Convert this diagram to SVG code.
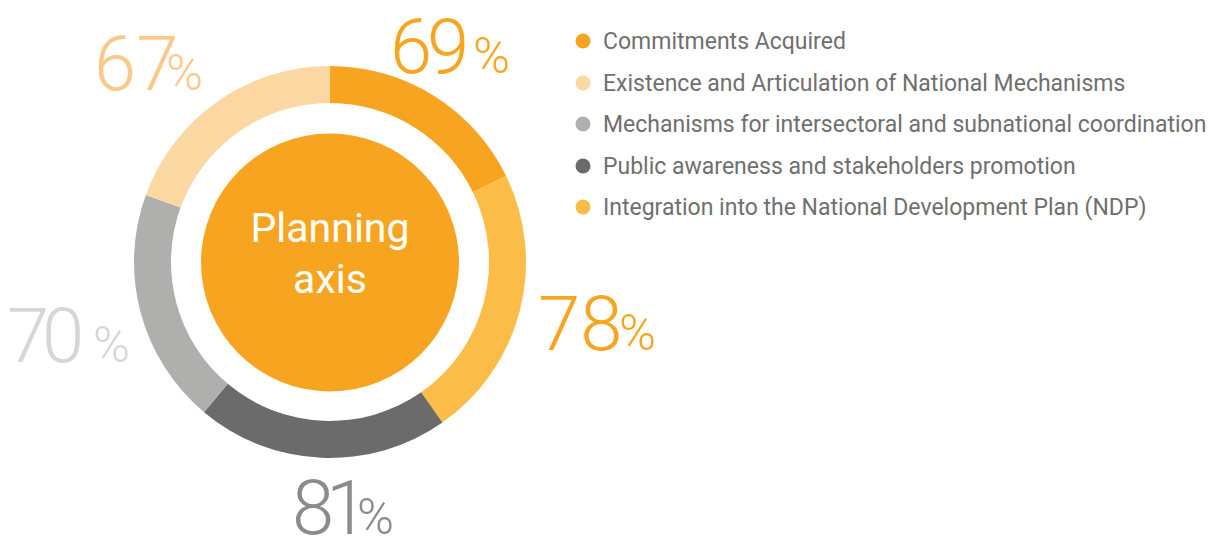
<svg xmlns="http://www.w3.org/2000/svg" width="1212" height="536" viewBox="0 0 1212 536">
<style>
.pct{font-family:Roboto,"Liberation Sans",sans-serif;font-weight:300;font-size:76px}
.ps{font-size:50px}
.leg{font-family:Roboto,"Liberation Sans",sans-serif;font-size:23px;fill:#6f6f6f}
.ctr{font-family:Roboto,"Liberation Sans",sans-serif;font-size:41px;fill:#ffffff;text-anchor:middle}
</style>
<rect width="1212" height="536" fill="#ffffff"/>
<g id="ring">
<path id="seg-commitments" d="M330,66 A196,196 0 0 1 506.16,176.07 L472.91,192.29 A159,159 0 0 0 330,103 Z" fill="#F7A521"/>
<path id="seg-ndp" d="M506.16,176.07 A196,196 0 0 1 442.43,422.56 L421.2,392.25 A159,159 0 0 0 472.91,192.29 Z" fill="#FBBD48"/>
<path id="seg-public" d="M442.43,422.56 A196,196 0 0 1 204.01,412.14 L227.79,383.79 A159,159 0 0 0 421.2,392.25 Z" fill="#6B6B6B"/>
<path id="seg-intersectoral" d="M204.01,412.14 A196,196 0 0 1 145.82,194.97 L180.59,207.62 A159,159 0 0 0 227.79,383.79 Z" fill="#AFAFAE"/>
<path id="seg-existence" d="M145.82,194.97 A196,196 0 0 1 330,66 L330,103 A159,159 0 0 0 180.59,207.62 Z" fill="#FBD7A2"/>
</g>
<g id="center">
<circle cx="330" cy="262.5" r="129" fill="#F7A521"/>
<text class="ctr" x="330" y="242">Planning</text>
<text class="ctr" x="330" y="293">axis</text>
</g>
<g id="labels">
<text class="pct" x="94" y="90" fill="#FAC98A">67<tspan class="ps" x="166">%</tspan></text>
<text class="pct" x="390" y="73" fill="#F7A521">6<tspan x="427">9</tspan><tspan class="ps" x="473">%</tspan></text>
<text class="pct" x="538" y="350" fill="#F7A521">78<tspan class="ps" x="619">%</tspan></text>
<text class="pct" x="7" y="362" fill="#D6D6D6">7<tspan x="42">0</tspan><tspan class="ps" x="93">%</tspan></text>
<text class="pct" x="292" y="534" fill="#8B8B8B">8<tspan x="326">1</tspan><tspan class="ps" x="357">%</tspan></text>
</g>
<g id="legend">
<circle cx="583" cy="41" r="7.5" fill="#F7A521"/>
<text class="leg" x="603" y="49">Commitments Acquired</text>
<circle cx="583" cy="83" r="7.5" fill="#FBD7A2"/>
<text class="leg" x="603" y="91">Existence and Articulation of National Mechanisms</text>
<circle cx="583" cy="124" r="7.5" fill="#AFAFAE"/>
<text class="leg" x="603" y="132">Mechanisms for intersectoral and subnational coordination</text>
<circle cx="583" cy="166" r="7.5" fill="#6B6B6B"/>
<text class="leg" x="603" y="174">Public awareness and stakeholders promotion</text>
<circle cx="583" cy="207" r="7.5" fill="#FBBD48"/>
<text class="leg" x="603" y="215">Integration into the National Development Plan (NDP)</text>
</g>
</svg>
